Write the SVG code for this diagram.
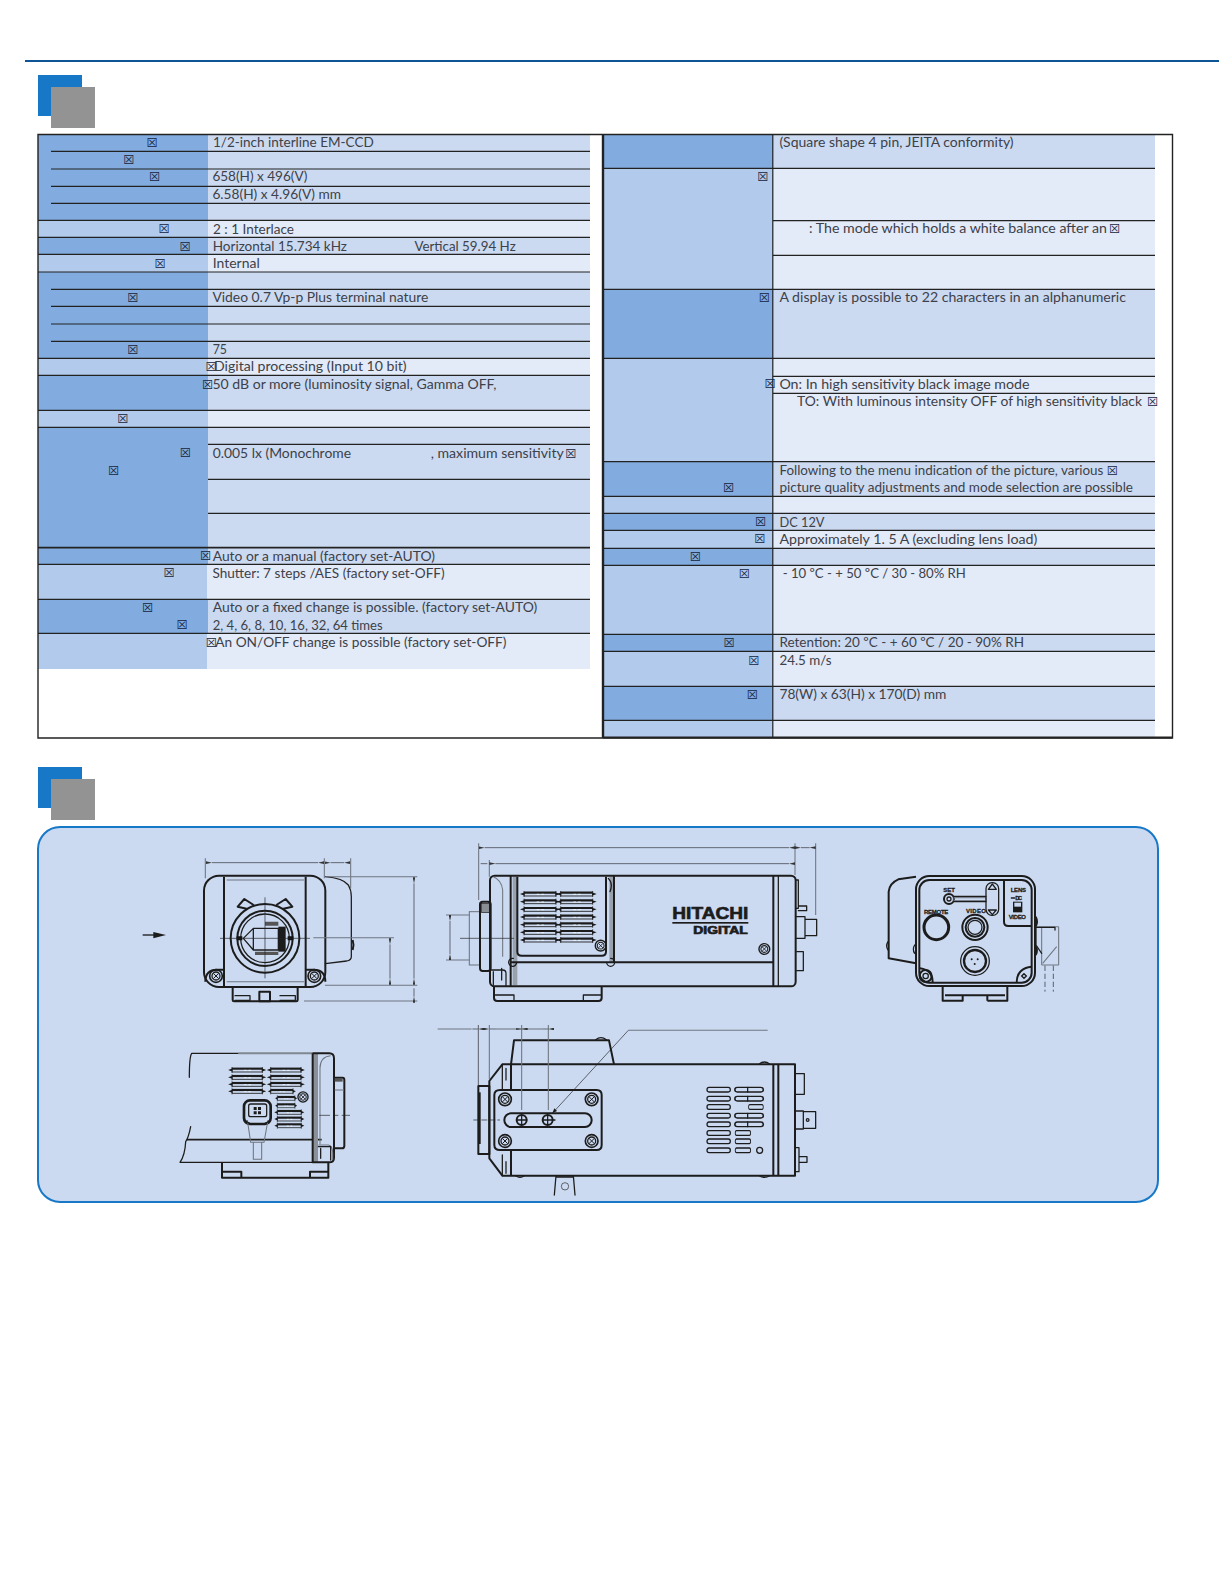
<svg xmlns="http://www.w3.org/2000/svg" xmlns:xlink="http://www.w3.org/1999/xlink" width="1225" height="1585" viewBox="0 0 1225 1585">
<style>
text{font-family:"Lato","Open Sans","Liberation Sans",sans-serif;font-weight:400;font-size:14px;fill:#3d4149}
.t{font-family:"DejaVu Sans",sans-serif;font-weight:400;font-size:12.5px;fill:#14233c;text-anchor:middle}
.da{fill:#82acdf}.db{fill:#cbdaf1}.la{fill:#b2cbec}.lb{fill:#e3eaf8}
.r{stroke:#222;stroke-width:1.2;fill:none}
.d{stroke:#1c1c1c;stroke-width:3.8;fill:none;stroke-linejoin:round;stroke-linecap:round}
.k{stroke:#1c1c1c;stroke-width:6;fill:none;stroke-linejoin:round}
.n{stroke:#232323;stroke-width:2;fill:none}
.g{stroke:#6f7681;stroke-width:3.2;fill:none}
.gt{stroke:#7f8791;stroke-width:6;fill:none}
.dim{stroke:#5f6772;stroke-width:3;fill:none;marker-start:url(#ar);marker-end:url(#ar)}
.lb0{font-family:"Liberation Sans",sans-serif;font-weight:700;fill:#1c1c1c}
.tiny{font-family:"Liberation Sans",sans-serif;font-weight:700;font-size:18px;fill:#1c1c1c;stroke:#1c1c1c;stroke-width:.8}
</style>
<defs>
<marker id="ar" viewBox="0 0 18 8" refX="0" refY="4" markerUnits="userSpaceOnUse" markerWidth="18" markerHeight="8" orient="auto-start-reverse"><path d="M18 0V8L0 4Z" fill="#333"/></marker>
<g id="vent"><path d="M0 -4H96" stroke="#1c1c1c" stroke-width="6.5"/><path d="M0 6H96" stroke="#1c1c1c" stroke-width="2.6"/><path d="M-12 0L2 -5V5ZM108 0L94 -5V5Z" fill="#1c1c1c"/><path d="M0 -9V9M96 -9V9" stroke="#1c1c1c" stroke-width="2.4"/><path d="M38 1H46M52 1H60" stroke="#fff" stroke-width="2"/></g>
<g id="sc"><circle r="19" fill="none" stroke="#1c1c1c" stroke-width="5"/><circle r="12" class="d"/><path stroke="#1c1c1c" stroke-width="3" d="M-8 -8L8 8M-8 8L8 -8"/></g>
<path id="sl" class="d" d="M4 -7H62Q68 -7 68 0Q68 7 62 7H4Q-2 7 -2 0Q-2 -7 4 -7Z"/>
</defs>

<g id="page-header">
<rect x="25" y="60" width="1194" height="2" fill="#0f5596"/>
<rect x="38" y="75" width="44" height="41" fill="#1878c8"/>
<rect x="51" y="87" width="44" height="41" fill="#939393"/>
<rect x="38" y="767" width="44" height="41" fill="#1878c8"/>
<rect x="51" y="779" width="44" height="41" fill="#939393"/>
</g>

<g id="spec-left">
<rect class="da" x="38" y="134.5" width="170" height="85.8"/><rect class="db" x="208" y="134.5" width="382" height="85.8"/>
<rect class="la" x="38" y="220.3" width="170" height="17"/><rect class="lb" x="208" y="220.3" width="382" height="17"/>
<rect class="da" x="38" y="237.3" width="170" height="17"/><rect class="db" x="208" y="237.3" width="382" height="17"/>
<rect class="la" x="38" y="254.3" width="170" height="17.7"/><rect class="lb" x="208" y="254.3" width="382" height="17.7"/>
<rect class="da" x="38" y="272" width="170" height="86.3"/><rect class="db" x="208" y="272" width="382" height="86.3"/>
<rect class="la" x="38" y="358.3" width="170" height="17"/><rect class="lb" x="208" y="358.3" width="382" height="17"/>
<rect class="da" x="38" y="375.3" width="170" height="35"/><rect class="db" x="208" y="375.3" width="382" height="35"/>
<rect class="la" x="38" y="410.3" width="170" height="17"/><rect class="lb" x="208" y="410.3" width="382" height="17"/>
<rect class="da" x="38" y="427.3" width="170" height="137"/><rect class="db" x="208" y="427.3" width="382" height="137"/>
<rect class="la" x="38" y="564.3" width="170" height="35"/><rect class="lb" x="207" y="564.3" width="383" height="35"/>
<rect class="da" x="38" y="599.3" width="170" height="34"/><rect class="db" x="208" y="599.3" width="382" height="34"/>
<rect class="la" x="38" y="633.3" width="169" height="35.7"/><rect class="lb" x="207" y="633.3" width="383" height="35.7"/>
<path class="r" d="M51 151.3H590M51 169H590M51 186.3H590M51 203.3H590M38 220.3H590M38 237.3H590M38 254.3H590M38 272H590M51 289.3H590M51 306.3H590M51 324H590M51 341.3H590M38 358.3H590M38 375.3H590M38 410.3H590M38 427.3H590M208 444.3H590M208 479.3H590M208 513.3H590M38 564.3H590M38 599.3H590M38 633.3H590"/>
<path d="M38 547.7H590" stroke="#222" stroke-width="1.8"/>
<text x="213" y="147" textLength="160.7" lengthAdjust="spacingAndGlyphs">1/2-inch interline EM-CCD</text>
<text x="212.4" y="181.3" textLength="95" lengthAdjust="spacingAndGlyphs">658(H) x 496(V)</text>
<text x="212.4" y="198.6" textLength="128.6" lengthAdjust="spacingAndGlyphs">6.58(H) x 4.96(V) mm</text>
<text x="213" y="233.6" textLength="81" lengthAdjust="spacingAndGlyphs">2 : 1 Interlace</text>
<text x="212.7" y="250.6" textLength="134.3" lengthAdjust="spacingAndGlyphs">Horizontal 15.734 kHz</text>
<text x="414.4" y="250.6" textLength="101.3" lengthAdjust="spacingAndGlyphs">Vertical 59.94 Hz</text>
<text x="212.7" y="268" textLength="47" lengthAdjust="spacingAndGlyphs">Internal</text>
<text x="212.4" y="302.3" textLength="216" lengthAdjust="spacingAndGlyphs">Video 0.7 Vp-p Plus terminal nature</text>
<text x="212.7" y="354" textLength="14.3" lengthAdjust="spacingAndGlyphs">75</text>
<text x="214" y="371.3" textLength="192.6" lengthAdjust="spacingAndGlyphs">Digital processing (Input 10 bit)</text>
<text x="212.4" y="388.6" textLength="284.1" lengthAdjust="spacingAndGlyphs">50 dB or more (luminosity signal, Gamma OFF,</text>
<text x="212.7" y="458" textLength="138.3" lengthAdjust="spacingAndGlyphs">0.005 lx (Monochrome</text>
<text x="430.7" y="458" textLength="133.1" lengthAdjust="spacingAndGlyphs">, maximum sensitivity</text>
<text x="212.7" y="560.6" textLength="222.3" lengthAdjust="spacingAndGlyphs">Auto or a manual (factory set-AUTO)</text>
<text x="212.4" y="577.6" textLength="232.3" lengthAdjust="spacingAndGlyphs">Shutter: 7 steps /AES (factory set-OFF)</text>
<text x="212.7" y="612.3" textLength="324.5" lengthAdjust="spacingAndGlyphs">Auto or a fixed change is possible. (factory set-AUTO)</text>
<text x="212.7" y="629.6" textLength="169.9" lengthAdjust="spacingAndGlyphs">2, 4, 6, 8, 10, 16, 32, 64 times</text>
<text x="215.3" y="646.6" textLength="291.2" lengthAdjust="spacingAndGlyphs">An ON/OFF change is possible (factory set-OFF)</text>
<text class="t" x="152" y="147">☒</text><text class="t" x="128.8" y="164">☒</text><text class="t" x="154.7" y="181.4">☒</text><text class="t" x="164" y="233.4">☒</text><text class="t" x="185" y="250.7">☒</text><text class="t" x="160.2" y="268">☒</text><text class="t" x="132.8" y="302.4">☒</text><text class="t" x="132.8" y="354">☒</text><text class="t" x="211" y="371.4">☒</text><text class="t" x="207.7" y="388.7">☒</text><text class="t" x="122.8" y="423">☒</text><text class="t" x="185.4" y="457">☒</text><text class="t" x="570.9" y="457.7">☒</text><text class="t" x="113.6" y="474.7">☒</text><text class="t" x="205.7" y="560.4">☒</text><text class="t" x="169" y="577.4">☒</text><text class="t" x="147.6" y="612">☒</text><text class="t" x="182" y="629.4">☒</text><text class="t" x="211.4" y="646.7">☒</text>
</g>

<g id="spec-right">
<rect class="da" x="603.5" y="134.3" width="169.5" height="34"/><rect class="db" x="773" y="134.3" width="382" height="34"/>
<rect class="la" x="603.5" y="168.3" width="169.5" height="121"/><rect class="lb" x="773" y="168.3" width="382" height="121"/>
<rect class="da" x="603.5" y="289.3" width="169.5" height="69"/><rect class="db" x="773" y="289.3" width="382" height="69"/>
<rect class="la" x="603.5" y="358.3" width="169.5" height="103.4"/><rect class="lb" x="773" y="358.3" width="382" height="103.4"/>
<rect class="da" x="603.5" y="461.7" width="169.5" height="34.6"/><rect class="db" x="773" y="461.7" width="382" height="34.6"/>
<rect class="la" x="603.5" y="496.3" width="169.5" height="17"/><rect class="lb" x="773" y="496.3" width="382" height="17"/>
<rect class="da" x="603.5" y="513.3" width="169.5" height="17"/><rect class="db" x="773" y="513.3" width="382" height="17"/>
<rect class="la" x="603.5" y="530.3" width="169.5" height="18"/><rect class="lb" x="773" y="530.3" width="382" height="18"/>
<rect class="da" x="603.5" y="548.3" width="169.5" height="17"/><rect class="db" x="773" y="548.3" width="382" height="17"/>
<rect class="la" x="603.5" y="565.3" width="169.5" height="69"/><rect class="lb" x="773" y="565.3" width="382" height="69"/>
<rect class="da" x="603.5" y="634.3" width="169.5" height="17"/><rect class="db" x="773" y="634.3" width="382" height="17"/>
<rect class="la" x="603.5" y="651.3" width="169.5" height="35"/><rect class="lb" x="773" y="651.3" width="382" height="35"/>
<rect class="da" x="603.5" y="686.3" width="169.5" height="34"/><rect class="db" x="773" y="686.3" width="382" height="34"/>
<rect class="la" x="603.5" y="720.3" width="169.5" height="17"/><rect class="lb" x="773" y="720.3" width="382" height="17"/>
<path class="r" d="M603.5 168.3H1155M773 220.7H1155M773 255.3H1155M603.5 289.3H1155M603.5 358.3H1155M773 376.3H1155M773 393.3H1155M603.5 461.7H1155M603.5 496.3H1155M603.5 513.3H1155M603.5 530.3H1155M603.5 548.3H1155M603.5 565.3H1155M603.5 634.3H1155M603.5 651.3H1155M603.5 686.3H1155M603.5 720.3H1155M772.8 134.3V737.5"/>
<text x="779.4" y="147" textLength="234.2" lengthAdjust="spacingAndGlyphs">(Square shape 4 pin, JEITA conformity)</text>
<text x="809" y="233.3" textLength="298" lengthAdjust="spacingAndGlyphs">: The mode which holds a white balance after an</text>
<text x="779.4" y="302.3" textLength="346.6" lengthAdjust="spacingAndGlyphs">A display is possible to 22 characters in an alphanumeric</text>
<text x="779.4" y="388.6" textLength="250.1" lengthAdjust="spacingAndGlyphs">On: In high sensitivity black image mode</text>
<text x="797" y="406" textLength="345" lengthAdjust="spacingAndGlyphs">TO: With luminous intensity OFF of high sensitivity black</text>
<text x="779.4" y="475" textLength="324" lengthAdjust="spacingAndGlyphs">Following to the menu indication of the picture, various</text>
<text x="779.4" y="492.3" textLength="353.6" lengthAdjust="spacingAndGlyphs">picture quality adjustments and mode selection are possible</text>
<text x="779.4" y="526.6" textLength="45.1" lengthAdjust="spacingAndGlyphs">DC 12V</text>
<text x="779.4" y="544" textLength="257.9" lengthAdjust="spacingAndGlyphs">Approximately 1. 5 A (excluding lens load)</text>
<text x="782.7" y="578.3" textLength="183.2" lengthAdjust="spacingAndGlyphs">- 10 ºC - + 50 ºC / 30 - 80% RH</text>
<text x="779.4" y="647.3" textLength="244.6" lengthAdjust="spacingAndGlyphs">Retention: 20 ºC -  + 60 ºC / 20 - 90% RH</text>
<text x="779.4" y="664.6" textLength="52.2" lengthAdjust="spacingAndGlyphs">24.5 m/s</text>
<text x="779.4" y="699" textLength="166.9" lengthAdjust="spacingAndGlyphs">78(W) x 63(H) x 170(D) mm</text>
<text class="t" x="1114.6" y="233.4">☒</text><text class="t" x="762.8" y="181.4">☒</text><text class="t" x="764.3" y="302">☒</text><text class="t" x="770.2" y="388.4">☒</text><text class="t" x="1152.7" y="405.7">☒</text><text class="t" x="1112.4" y="474.7">☒</text><text class="t" x="728.7" y="492">☒</text><text class="t" x="760.6" y="526.4">☒</text><text class="t" x="759.8" y="543.4">☒</text><text class="t" x="695.4" y="560.7">☒</text><text class="t" x="744.3" y="578">☒</text><text class="t" x="729" y="647">☒</text><text class="t" x="753.9" y="664.7">☒</text><text class="t" x="752.4" y="698.7">☒</text>
</g>

<g id="table-frame">
<path d="M38 134.5H1172.5V738H38Z" fill="none" stroke="#222" stroke-width="1.4"/>
<path d="M603 134.5V738" stroke="#222" stroke-width="2.4"/>
<path d="M603 737.5H1172" stroke="#222" stroke-width="1.8"/>
</g>

<rect id="drawing-panel" x="38" y="827" width="1120" height="375" rx="22" fill="#cbdaf1" stroke="#1878c8" stroke-width="2"/>

<g id="front-view" transform="translate(130 825) scale(.33333)">
<path class="d" d="M586 155Q640 160 655 180Q664 195 664 215V395Q664 405 650 408L586 416"/>
<path class="k" d="M668 345Q673 360 668 375"/>
<rect class="k" x="222" y="152" width="364" height="334" rx="45"/>
<path class="k" d="M282 155V484M527 155V484"/>
<path class="g" d="M290 165H522M290 470H522"/>
<path class="k" d="M226 470Q226 434 262 434H282M527 434H550Q586 434 586 470"/>
<g transform="translate(405 340)"><circle r="103" class="k"/><circle r="83" class="k"/><circle r="73" class="d"/>
<path class="k" d="M-52 -88L-82 -95L-62 -118L-34 -100M52 -88L82 -95L62 -118L34 -100"/>
<path class="d" d="M-35 -30H40V35H-35ZM-35 -30L-65 0L-35 35"/><rect x="40" y="-35" width="22" height="75" fill="#1c1c1c"/><path d="M-30 40H40V50H-30ZM0 -50H40V-38H0Z" fill="#555"/><path d="M-85 -6H-68V6H-85ZM68 -6H85V6H68Z" fill="#111"/>
<path class="n" d="M-135 0H135M0 -123V120"/></g>
<use xlink:href="#sc" href="#sc" x="258" y="453"/><use xlink:href="#sc" href="#sc" x="553" y="453"/>
<rect class="k" x="308" y="486" width="195" height="43" rx="4"/>
<rect class="k" x="388" y="500" width="32" height="29"/>
<path class="d" d="M315 512H360V526M450 512H496V526M315 526H360M450 526H496"/>
<path class="g" d="M226 100V160M583 100V160M662 100V190M586 155H862M550 338H792M585 481H862M522 528H862"/>
<path class="dim" d="M246 113H564"/><path class="dim" d="M602 113H642"/>
<path class="dim" d="M852 175V461"/><path class="dim" d="M780 358V461"/>
<path class="dim" d="M852 490V515" style="marker-start:none"/>
<path d="M38 330H85" stroke="#1c1c1c" stroke-width="4"/><path d="M70 321L108 330L70 340Z" fill="#1c1c1c"/>
</g>

<g id="side-view" transform="translate(430 825) scale(.33333)">
<rect class="g" x="118" y="260" width="32" height="160"/>
<rect class="k" x="150" y="230" width="32" height="208" rx="8"/>
<rect x="155" y="235" width="25" height="28" fill="#8a8f96" stroke="#1c1c1c" stroke-width="2"/>
<rect x="248" y="155" width="14" height="325" fill="#99a1ad"/><rect x="538" y="155" width="14" height="257" fill="#99a1ad"/>
<rect class="k" x="180" y="152" width="917" height="332" rx="14"/>
<path class="k" d="M242 152V484M1030 152V484M552 152V412M242 412H1030"/><path class="d" d="M1045 152V484"/>
<path class="k" d="M262 155V380Q262 392 275 392H515Q528 392 528 380V155"/>
<path class="g" d="M190 155Q215 165 218 195V395"/><path class="d" d="M182 435H218Q228 435 228 445V482M190 480V440M215 430V465"/>
<path class="d" d="M250 400A12 12 0 1 0 260 412M530 412A12 12 0 1 0 542 400M535 160Q550 175 540 200"/>
<g id="side-vents">
<use xlink:href="#vent" href="#vent" x="282" y="207"/><use xlink:href="#vent" href="#vent" x="282" y="230"/><use xlink:href="#vent" href="#vent" x="282" y="253"/><use xlink:href="#vent" href="#vent" x="282" y="276"/><use xlink:href="#vent" href="#vent" x="282" y="299"/><use xlink:href="#vent" href="#vent" x="282" y="322"/><use xlink:href="#vent" href="#vent" x="282" y="345"/>
<use xlink:href="#vent" href="#vent" x="392" y="207"/><use xlink:href="#vent" href="#vent" x="392" y="230"/><use xlink:href="#vent" href="#vent" x="392" y="253"/><use xlink:href="#vent" href="#vent" x="392" y="276"/><use xlink:href="#vent" href="#vent" x="392" y="299"/><use xlink:href="#vent" href="#vent" x="392" y="322"/><use xlink:href="#vent" href="#vent" x="392" y="345"/>
</g>
<g transform="translate(512 362) scale(.85)"><use xlink:href="#sc" href="#sc"/></g><g transform="translate(1003 372) scale(.85)"><use xlink:href="#sc" href="#sc"/></g>
<text class="lb0" x="727" y="283" textLength="228" lengthAdjust="spacingAndGlyphs" stroke="#1c1c1c" stroke-width="2" style="font-size:52px;font-weight:700;font-family:'Liberation Sans',sans-serif;fill:#1c1c1c">HITACHI</text>
<rect x="727" y="291" width="228" height="5" fill="#1c1c1c"/>
<text class="lb0" x="790" y="328" textLength="163" lengthAdjust="spacingAndGlyphs" stroke="#1c1c1c" stroke-width="2" style="font-size:31px;font-weight:700;font-family:'Liberation Sans',sans-serif;fill:#1c1c1c">DIGITAL</text>
<path class="k" d="M192 484V518Q192 528 202 528H505Q515 528 515 518V484"/>
<path class="d" d="M196 510H252V526M460 526V510H512"/>
<path class="d" d="M1097 165H1105V250H1097M1105 243H1130V257H1105M1097 275H1125V340H1097M1125 283H1160V332H1125M1100 380H1120V437H1100"/>
<path class="n" d="M90 340H252"/>
<path class="g" d="M48 270H118M48 405H118M146 55V225M178 105V155M1095 55V150M1157 55V270"/>
<path class="dim" d="M60 288V387"/>
<path class="dim" d="M164 68H1077"/><path class="dim" d="M1113 68H1139"/>
<path class="dim" d="M196 116H1077"/><path class="dim" d="M152 116H172" style="marker-start:none;marker-end:none"/>
</g>

<g id="rear-view" transform="translate(860 850) scale(.33333)">
<path class="k" d="M168 80L115 88Q88 100 86 125V325L168 340"/>
<path class="d" d="M84 275Q76 288 84 300M164 285Q156 298 164 310"/>
<rect class="k" x="168" y="78" width="357" height="330" rx="40"/>
<rect class="k" x="178" y="90" width="337" height="308" rx="30"/>
<path class="k" d="M432 90V215Q432 228 445 228H515"/>
<circle cx="267" cy="147" r="15" class="k"/><circle cx="267" cy="147" r="6" class="d"/>
<rect class="g" x="282" y="143" width="96" height="9"/>
<path class="d" d="M282 139H378M282 155H378"/>
<rect class="d" x="378" y="98" width="38" height="98" rx="18"/>
<path class="d" d="M385 118L397 102L409 118ZM385 180L397 194L409 180Z"/>
<text class="tiny" x="250" y="127" textLength="35" lengthAdjust="spacing">SET</text>
<text class="tiny" x="192" y="191" textLength="73" lengthAdjust="spacing">REMOTE</text>
<text class="tiny" x="318" y="189" textLength="60" lengthAdjust="spacing">VIDEO</text>
<text class="tiny" x="452" y="127" textLength="46" lengthAdjust="spacing">LENS</text>
<path class="d" d="M454 144H464"/><text class="tiny" x="466" y="150" textLength="20" lengthAdjust="spacing">DC</text>
<rect x="459" y="155" width="28" height="32" fill="#1c1c1c"/><rect x="463" y="158" width="20" height="12" fill="#cbdaf1"/>
<text class="tiny" x="446" y="207" textLength="52" lengthAdjust="spacing">VIDEO</text>
<circle cx="229" cy="232" r="37" fill="none" stroke="#1c1c1c" stroke-width="9"/>
<circle cx="345" cy="232" r="38" class="k"/><circle cx="345" cy="232" r="28" class="k"/><circle cx="345" cy="232" r="21" class="d"/>
<circle cx="345" cy="333" r="43" class="d"/><circle cx="345" cy="333" r="33" fill="none" stroke="#1c1c1c" stroke-width="7"/>
<circle cx="335" cy="328" r="3" fill="#1c1c1c"/><circle cx="353" cy="328" r="3" fill="#1c1c1c"/><circle cx="344" cy="342" r="3" fill="#1c1c1c"/>
<circle cx="197" cy="378" r="18" class="k"/><circle cx="197" cy="378" r="8" class="d"/>
<path class="k" d="M218 398Q218 360 180 355M470 398Q470 355 515 350"/>
<path d="M485 378L492 371L499 378L492 385Z" fill="none" stroke="#1c1c1c" stroke-width="4"/>
<path class="k" d="M248 408V452H308V436H255M382 436H435M382 452V436M382 452H442V408M308 436H382"/>
<path class="g" d="M545 230V345M596 230V345M530 230H596M545 345H596M548 340L590 290"/>
<path class="d" d="M528 232H585V240M528 232V285L545 310"/>
<path class="n" stroke-dasharray="16 8" d="M555 347V425M580 347V425"/>
<path class="k" d="M527 200Q535 215 527 230M527 290Q535 300 527 315"/>
</g>

<g id="lower-left-view" transform="translate(170 1025) scale(.33333)">
<path class="d" d="M205 85H65Q58 95 58 157M62 305Q55 340 47 350Q45 390 30 412H430"/>
<path class="gt" d="M205 85H430"/>
<path d="M50 344H455" stroke="#1c1c1c" stroke-width="5"/>
<rect x="428" y="85" width="16" height="327" fill="#8b9098"/>
<path class="k" d="M428 85H478Q492 85 492 100V398Q492 412 478 412H428V85"/>
<path class="g" d="M482 92Q450 95 450 130V358M445 360H475Q488 362 488 385V405"/>
<path class="d" d="M445 365H482V405M452 370V400"/>
<path class="k" d="M492 158H518Q523 158 523 165V362Q523 370 516 370H492"/>
<path d="M494 160H518V170H494Z" fill="#555"/><path class="g" d="M494 195H522"/>
<path class="n" d="M448 271H480M495 271H505M515 271H540"/>
<g transform="translate(186 0) scale(.95 1)"><use xlink:href="#vent" href="#vent" y="135"/><use xlink:href="#vent" href="#vent" y="157"/><use xlink:href="#vent" href="#vent" y="178"/><use xlink:href="#vent" href="#vent" y="199"/></g>
<g transform="translate(302 0) scale(.95 1)"><use xlink:href="#vent" href="#vent" y="135"/><use xlink:href="#vent" href="#vent" y="157"/><use xlink:href="#vent" href="#vent" y="178"/></g>
<g transform="translate(302 0) scale(.7 1)"><use xlink:href="#vent" href="#vent" y="199"/></g>
<g transform="translate(322 0) scale(.55 1)"><use xlink:href="#vent" href="#vent" y="220"/><use xlink:href="#vent" href="#vent" y="242"/></g>
<g transform="translate(322 0) scale(.75 1)"><use xlink:href="#vent" href="#vent" y="262"/><use xlink:href="#vent" href="#vent" y="282"/><use xlink:href="#vent" href="#vent" y="302"/></g>
<g transform="translate(399 216) scale(.8)"><use xlink:href="#sc" href="#sc"/></g>
<rect x="222" y="226" width="80" height="71" rx="18" fill="none" stroke="#1c1c1c" stroke-width="8"/>
<rect class="d" x="236" y="237" width="54" height="38" rx="6"/>
<path fill="#1c1c1c" d="M251 246h9v9h-9zM264 246h9v9h-9zM251 259h9v9h-9zM264 259h9v9h-9z"/>
<path class="g" d="M232 285L242 352H282L294 285M250 352V403H275V352"/>
<path class="d" d="M225 285Q240 300 250 296M300 285Q285 300 272 296"/>
<path class="k" d="M156 412V458H475V412M156 440H214V458M475 440H420V458"/>
</g>

<g id="lower-center-view" transform="translate(425 1005) scale(.33333)">
<path class="k" d="M258 178L267 106H552L567 178"/>
<path class="d" d="M512 104Q528 92 544 104M1003 177Q1018 165 1034 177M272 512Q285 522 298 512M1003 512Q1018 522 1034 512"/>
<path class="k" d="M193 228V460L232 512H1110V178H232Z"/>
<rect class="k" x="160" y="243" width="33" height="204"/><rect x="160" y="262" width="7" height="155" fill="#1c1c1c"/>
<path class="k" d="M258 178V255M258 435V512M1045 178V512M1060 178V512"/>
<path class="d" d="M232 190V225M243 190V225M232 470V505M243 470V505M232 178V255M232 450V512"/>
<path class="k" d="M208 270Q208 255 225 255H515Q530 255 530 270V420Q530 435 515 435H225Q208 435 208 420Z"/>
<rect class="k" x="238" y="325" width="262" height="41" rx="20"/>
<g id="plate-screws"><use xlink:href="#sc" href="#sc" x="240" y="283"/><use xlink:href="#sc" href="#sc" x="500" y="283"/><use xlink:href="#sc" href="#sc" x="240" y="408"/><use xlink:href="#sc" href="#sc" x="500" y="408"/></g>
<circle cx="290" cy="345" r="15" class="k"/><circle cx="368" cy="345" r="15" class="k"/>
<path class="d" d="M275 345H305M290 330V360M353 345H390M368 330V360"/>
<path class="n" stroke-dasharray="18 6" d="M145 345H225"/>
<g id="bottom-vents">
<use xlink:href="#sl" href="#sl" x="848" y="254"/><use xlink:href="#sl" href="#sl" x="848" y="281"/><use xlink:href="#sl" href="#sl" x="848" y="306"/><use xlink:href="#sl" href="#sl" x="848" y="332"/><use xlink:href="#sl" href="#sl" x="848" y="358"/><use xlink:href="#sl" href="#sl" x="848" y="384"/><use xlink:href="#sl" href="#sl" x="848" y="409"/><use xlink:href="#sl" href="#sl" x="848" y="436"/>
<use xlink:href="#sl" href="#sl" transform="translate(932 254) scale(1.22 1)"/><use xlink:href="#sl" href="#sl" transform="translate(932 281) scale(1.22 1)"/><use xlink:href="#sl" href="#sl" transform="translate(972 306) scale(.63 1)"/><use xlink:href="#sl" href="#sl" transform="translate(932 332) scale(1.22 1)"/><use xlink:href="#sl" href="#sl" transform="translate(932 358) scale(1.22 1)"/>
<use xlink:href="#sl" href="#sl" transform="translate(932 384) scale(.66 1)"/><use xlink:href="#sl" href="#sl" transform="translate(932 409) scale(.66 1)"/><use xlink:href="#sl" href="#sl" transform="translate(932 436) scale(.66 1)"/>
<path class="d" d="M968 247V261M968 274V288M968 325V339M968 351V365"/>
</g>
<circle cx="1004" cy="436" r="9" class="d"/>
<path class="d" d="M1112 206H1138V268H1112M1112 318H1135V372H1112M1135 320H1172V370H1135M1112 428H1122V500H1112M1122 455H1146V472H1122"/>
<circle cx="1148" cy="345" r="4" class="d"/>
<path class="d" d="M393 512L388 570M445 512L450 570M395 516H445"/><circle cx="420" cy="544" r="11" class="n"/>
<path class="g" d="M38 72H140"/>
<path class="g" d="M193 60V222M290 60V315M370 60V315"/><path class="n" d="M160 60V240"/>
<path class="dim" d="M142 72H160" style="marker-start:none"/><path class="dim" d="M193 72H213" style="marker-end:none"/>
<path class="g" d="M213 72H272"/><path class="dim" d="M290 72H308" style="marker-end:none"/><path class="g" d="M308 72H352"/><path class="dim" d="M272 72H290" style="marker-start:none"/><path class="dim" d="M352 72H370" style="marker-start:none"/>
<path class="g" d="M1028 76H610"/><path class="n" d="M610 76L382 325"/><path d="M382 325L396 318L388 310Z" fill="#1c1c1c"/>
</g>
</svg>
